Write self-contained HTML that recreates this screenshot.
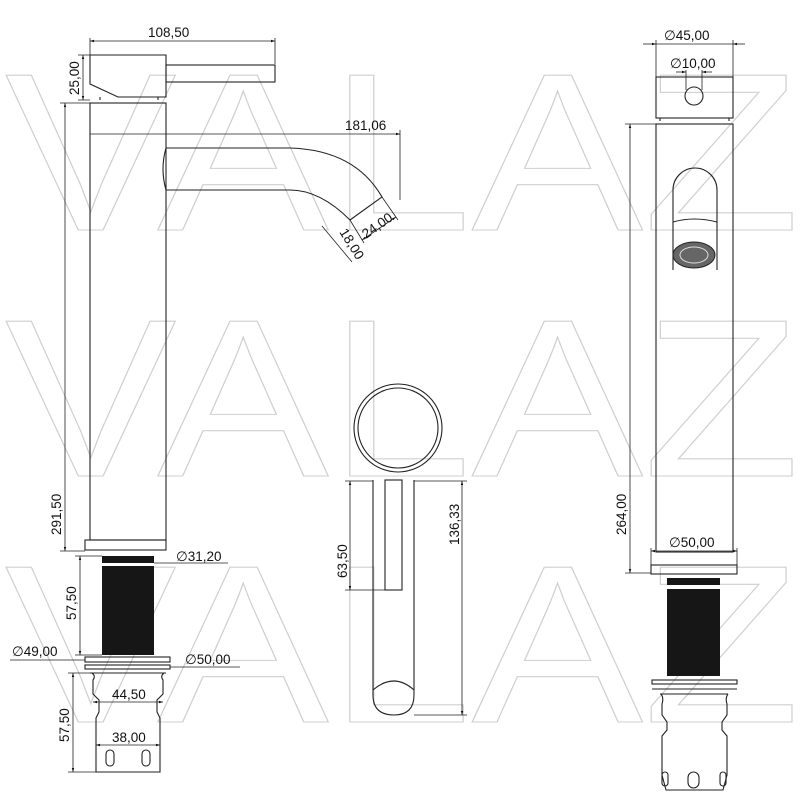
<!DOCTYPE html>
<html><head><style>
html,body{margin:0;padding:0;background:#fff;}
svg{display:block;}
text{font-family:"Liberation Sans",sans-serif;font-size:13.5px;fill:#111;}
.wm{font-size:225px;fill:none;stroke:#cfcfcf;stroke-width:1.1;}
</style></head><body>
<svg width="800" height="800" viewBox="0 0 800 800" xmlns="http://www.w3.org/2000/svg">
<defs>
<marker id="a" viewBox="0 0 10 10" refX="10" refY="5" markerWidth="7" markerHeight="5" orient="auto-start-reverse"><path d="M0,2 L10,5 L0,8 z" fill="#111"/></marker>
</defs>
<text class="wm" x="5" y="230" textLength="795" lengthAdjust="spacingAndGlyphs">VALAZ</text>
<text class="wm" x="5" y="476" textLength="795" lengthAdjust="spacingAndGlyphs">VALAZ</text>
<text class="wm" x="5" y="722" textLength="795" lengthAdjust="spacingAndGlyphs">VALAZ</text>

<g fill="none" stroke="#222" stroke-width="1.1">
<path d="M90,55 H166 V97 H118 L90,84 Z"/>
<rect x="166" y="65" width="109" height="17"/>
<path d="M100,97 V100 M158,97 V100"/>
<rect x="90" y="103" width="76" height="437"/>
<path d="M166,148 H290 Q355,150 382,197 L350,220 Q320,190 290,190 H166"/>
<path d="M166,148 Q160,169 166,190" />
<rect x="85" y="540" width="81" height="10"/>
<rect x="85" y="657" width="85" height="5"/>
<rect x="85" y="665" width="85" height="4"/>
<path d="M90,673 H166 M92,673 Q96,676 93,680 V694 L99,700 V712 L96,718 V772 H160 V718 L157,712 V700 L163,694 V680 Q160,676 164,673"/>
<rect x="106" y="750" width="8" height="16" rx="4"/>
<rect x="142" y="750" width="8" height="16" rx="4"/>
<g stroke-width="0.8">
<path d="M90,38 V55 M275,38 V64"/>
<line x1="90" y1="41" x2="275" y2="41" marker-start="url(#a)" marker-end="url(#a)"/>
<path d="M78,55 H90 M78,100 H90"/>
<line x1="83" y1="55" x2="83" y2="100" marker-start="url(#a)" marker-end="url(#a)"/>
<path d="M400,130 V200"/>
<line x1="90" y1="134" x2="400" y2="134" marker-end="url(#a)"/>
<path d="M60,103 H90 M60,551 H85"/>
<line x1="65" y1="103" x2="65" y2="551" marker-start="url(#a)" marker-end="url(#a)"/>
<path d="M382,197 L398,220 M350,220 L364,243"/>
<line x1="362" y1="240" x2="396" y2="217" marker-start="url(#a)" marker-end="url(#a)"/>
<path d="M322,226 L352,262"/>
<path d="M154,563 H228 M75,556 H102 M75,655 H102"/>
<line x1="80" y1="556" x2="80" y2="655" marker-start="url(#a)" marker-end="url(#a)"/>
<path d="M10,660 H85 M170,667 H240 M68,673 H92 M68,772 H96"/>
<line x1="73" y1="673" x2="73" y2="772" marker-start="url(#a)" marker-end="url(#a)"/>
<line x1="93" y1="702" x2="163" y2="702" marker-start="url(#a)" marker-end="url(#a)"/>
<line x1="96" y1="745" x2="160" y2="745" marker-start="url(#a)" marker-end="url(#a)"/>
</g>
<circle cx="398" cy="428" r="44"/>
<circle cx="398" cy="428" r="40"/>
<path d="M373,480 V695 Q373,715 394,715 Q414,715 414,695 V480"/>
<path d="M373,690 Q394,672 414,690"/>
<rect x="385" y="480" width="17" height="110"/>
<g stroke-width="0.8">
<path d="M345,481 H373 M345,590 H385 M414,481 H467 M414,715 H467"/>
<line x1="350" y1="481" x2="350" y2="590" marker-start="url(#a)" marker-end="url(#a)"/>
<line x1="462" y1="481" x2="462" y2="715" marker-start="url(#a)" marker-end="url(#a)"/>
</g>
<rect x="656" y="77" width="77" height="41"/>
<circle cx="694" cy="96" r="9"/>
<path d="M660,118 V121 M729,118 V121"/>
<rect x="656" y="124" width="77" height="428"/>
<path d="M673,270 V190 A22,22 0 0 1 717,190 V270"/>
<path d="M673,222 Q694,216 717,222"/>
<rect x="651" y="565" width="86" height="9"/>
<rect x="652" y="680" width="85" height="4"/>
<path d="M652,689 H737"/>
<path d="M660,694 H728 M661,694 Q664,698 662,704 V715 L667,722 V730 L662,736 V775 L666,790 H723 L727,775 V736 L722,730 V722 L727,715 V704 Q725,698 728,694"/>
<rect x="662" y="772" width="6" height="14" rx="3"/>
<rect x="688" y="772" width="11" height="16" rx="5.5"/>
<rect x="720" y="772" width="6" height="14" rx="3"/>
<g stroke-width="0.8">
<path d="M656,40 V77 M733,40 V77"/>
<line x1="643" y1="44" x2="656" y2="44" marker-end="url(#a)"/>
<line x1="745" y1="44" x2="733" y2="44" marker-end="url(#a)"/>
<line x1="656" y1="44" x2="733" y2="44"/>
<path d="M686,70 V90 M702,70 V90"/>
<line x1="676" y1="72" x2="686" y2="72" marker-end="url(#a)"/>
<line x1="712" y1="72" x2="702" y2="72" marker-end="url(#a)"/>
<path d="M625,124 H656 M625,573 H651"/>
<line x1="630" y1="124" x2="630" y2="573" marker-start="url(#a)" marker-end="url(#a)"/>
<path d="M651,548 V565 M737,548 V565"/>
<line x1="651" y1="551" x2="737" y2="551" marker-start="url(#a)" marker-end="url(#a)"/>
</g>
</g>
<rect x="102" y="556" width="52" height="99" fill="#161616"/>
<rect x="102" y="563" width="52" height="3" fill="#fff"/>
<rect x="667" y="578" width="53" height="98" fill="#161616"/>
<rect x="667" y="585" width="53" height="4" fill="#fff"/>
<ellipse cx="694" cy="255" rx="21" ry="13" fill="#666" stroke="#222"/>
<ellipse cx="694" cy="255" rx="14" ry="8" fill="none" stroke="#ddd" stroke-width="1"/>
<text x="148" y="37">108,50</text>
<text transform="translate(79,95) rotate(-90)">25,00</text>
<text x="345" y="130">181,06</text>
<text transform="translate(366,239) rotate(-35)">24,00</text>
<text transform="translate(339,232) rotate(58)">18,00</text>
<text transform="translate(61,535) rotate(-90)">291,50</text>
<text x="176" y="561">∅31,20</text>
<text transform="translate(76,620) rotate(-90)">57,50</text>
<text x="12" y="656">∅49,00</text>
<text x="185" y="664">∅50,00</text>
<text x="112" y="699">44,50</text>
<text x="112" y="742">38,00</text>
<text transform="translate(69,742) rotate(-90)">57,50</text>
<text transform="translate(347,578) rotate(-90)">63,50</text>
<text transform="translate(459,545) rotate(-90)">136,33</text>
<text x="664" y="40">∅45,00</text>
<text x="670" y="68">∅10,00</text>
<text transform="translate(626,535) rotate(-90)">264,00</text>
<text x="669" y="547">∅50,00</text>
</svg>
</body></html>
